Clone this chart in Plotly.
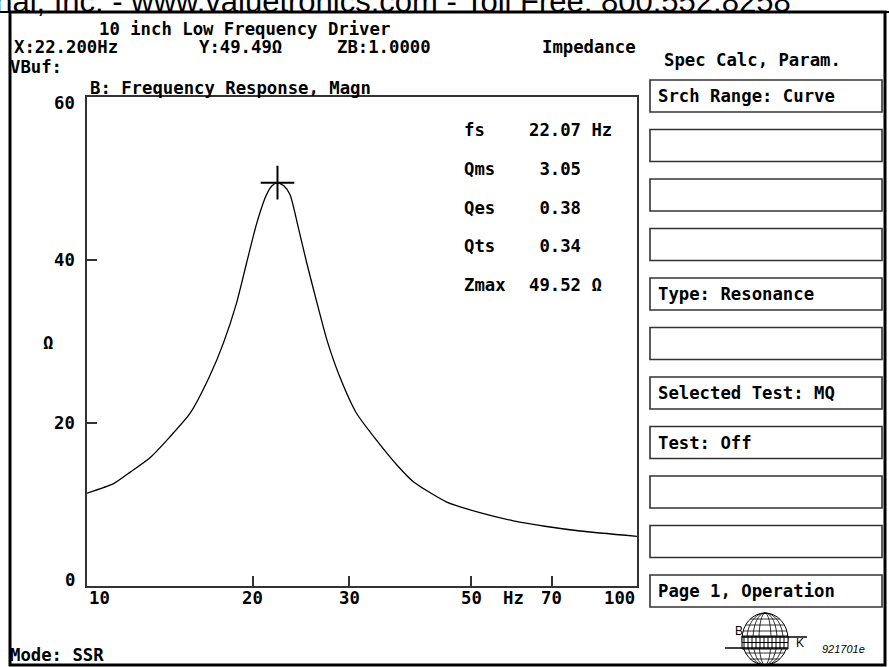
import plotly.graph_objects as go
import numpy as np

# ---------------- data ----------------
freq_hz = [10.0, 11.2, 12.0, 13.0, 14.15, 15.4, 16.7, 17.7, 18.7, 19.5, 20.35, 21.2, 21.7,
           22.2, 22.8, 23.4, 24.2, 25.1, 26.2, 27.3, 28.8, 30.9, 33.6, 36.6, 39.2,
           45.1, 51.8, 59.6, 68.5, 78.8, 100.0]
impedance_ohm = [11.4, 12.6, 14.0, 15.7, 18.3, 21.2, 25.7, 29.8, 34.7, 39.6, 44.5, 48.0, 49.1,
                 49.5, 49.1, 48.0, 44.1, 39.6, 34.7, 30.2, 25.7, 21.2, 17.9, 14.85, 12.8,
                 10.3, 9.0, 8.0, 7.3, 6.75, 6.1]
cursor_x = [22.2]
cursor_y = [49.49]

x_tick_vals = [20, 30, 50, 70]
x_tick_text = ["20", "30", "50", "70"]
y_tick_vals = [0, 20, 40, 60]
y_tick_text = ["0", "20", "40", "60"]

param_names = ["fs", "Qms", "Qes", "Qts", "Zmax"]
param_values = ["22.07 Hz", " 3.05", " 0.38", " 0.34", "49.52 Ω"]

panel_labels = ["Srch Range: Curve", "", "", "", "Type: Resonance", "",
                "Selected Test: MQ", "Test: Off", "", "", "Page 1, Operation"]

# ---------------- layout geometry ----------------
W, H = 889, 667
L, R, T, B = 87, 637, 97, 586
FONT = "DejaVu Sans Mono"
FS = 17.3
BLACK = "#000000"
GREY = "#333333"


def px(x):
    return (x - L) / (R - L)


def py(y):
    return (B - y) / (B - T)


fig = go.Figure()
fig.add_trace(go.Scatter(x=freq_hz, y=impedance_ohm, mode="lines",
                         line=dict(color=BLACK, width=1.3, shape="spline", smoothing=0.6),
                         hoverinfo="skip", showlegend=False))
fig.add_trace(go.Scatter(x=cursor_x, y=cursor_y, mode="markers",
                         marker=dict(symbol="cross-thin", size=24,
                                     line=dict(color=BLACK, width=2)),
                         hoverinfo="skip", showlegend=False))

ann = []


def text(x, y, s, anchor="left", size=FS, family=FONT, bold=True, italic=False, color=BLACK):
    t = f"<b>{s}</b>" if bold else s
    if italic:
        t = f"<i>{t}</i>"
    ann.append(dict(x=px(x), y=py(y), xref="paper", yref="paper", text=t,
                    showarrow=False, xanchor=anchor, yanchor="middle",
                    font=dict(family=family, size=size, color=color)))


# watermark on top (cut off by the page edge)
text(793, 1, "Valuetronics International, Inc. - www.valuetronics.com - Toll Free: 800.552.8258",
     anchor="right", size=31, family="Liberation Sans", bold=False)

# header texts
text(97, 29, "10 inch Low Frequency Driver")
text(12, 47, "X:22.200Hz")
text(197, 47, "Y:49.49Ω")
text(335, 47, "ZB:1.0000")
text(540, 47, "Impedance")
text(662, 60, "Spec Calc, Param.")
text(8, 67, "VBuf:")
text(88, 88, "B: Frequency Response, Magn")
text(8, 655, "Mode: SSR")
text(41, 343, "Ω")

# y tick labels
for v, s in zip(y_tick_vals, y_tick_text):
    yy = B - (v / 60.0) * (B - T)
    if v == 0:
        yy -= 6
    if v == 60:
        yy += 6
    text(77, yy, s, anchor="right")

# x tick labels (through the x axis)
for v, s in zip(x_tick_vals, x_tick_text):
    ann.append(dict(x=np.log10(v), y=py(598), xref="x", yref="paper", text=f"<b>{s}</b>",
                    showarrow=False, xanchor="center", yanchor="middle",
                    font=dict(family=FONT, size=FS, color=BLACK)))
ann.append(dict(x=1, y=py(598), xref="x", yref="paper", text="<b>10</b>",
                showarrow=False, xanchor="left", yanchor="middle",
                font=dict(family=FONT, size=FS, color=BLACK)))
ann.append(dict(x=2, y=py(598), xref="x", yref="paper", text="<b>100</b>",
                showarrow=False, xanchor="right", yanchor="middle",
                font=dict(family=FONT, size=FS, color=BLACK)))
text(513, 598, "Hz", anchor="center")

# parameter table
for i, (n, v) in enumerate(zip(param_names, param_values)):
    yy = 130 + i * 38.8
    text(462, yy, n)
    text(527, yy, v)

# right panel boxes
shapes = []
for i, lab in enumerate(panel_labels):
    top = 80 + i * 49.5
    shapes.append(dict(type="rect", xref="paper", yref="paper",
                       x0=px(650), x1=px(882), y0=py(top), y1=py(top + 32),
                       line=dict(color=GREY, width=1.6)))
    if lab:
        text(656, top + 16, lab)

# outer frame
shapes.append(dict(type="rect", xref="paper", yref="paper",
                   x0=px(10), x1=px(885), y0=py(12), y1=py(665),
                   line=dict(color=BLACK, width=3)))
shapes.append(dict(type="line", xref="paper", yref="paper",
                   x0=px(0), x1=px(889), y0=py(12), y1=py(12),
                   line=dict(color=BLACK, width=2)))

# BK logo
cx, cy, rx, ry = 765, 639, 23, 26
shapes.append(dict(type="circle", xref="paper", yref="paper",
                   x0=px(cx - rx), x1=px(cx + rx), y0=py(cy - ry), y1=py(cy + ry),
                   line=dict(color=BLACK, width=1)))
for k in [6, 12, 18]:
    shapes.append(dict(type="circle", xref="paper", yref="paper",
                       x0=px(cx - k), x1=px(cx + k), y0=py(cy - ry), y1=py(cy + ry),
                       line=dict(color=BLACK, width=0.8)))
for dy in [-20, -14, -8, 8, 14, 20]:
    half = rx * np.sqrt(max(1 - (dy / ry) ** 2, 0))
    shapes.append(dict(type="line", xref="paper", yref="paper",
                       x0=px(cx - half), x1=px(cx + half), y0=py(cy + dy), y1=py(cy + dy),
                       line=dict(color=BLACK, width=0.8)))
shapes.append(dict(type="rect", xref="paper", yref="paper",
                   x0=px(cx - 23), x1=px(cx + 23), y0=py(636), y1=py(649),
                   line=dict(color=BLACK, width=1), fillcolor="white"))
for xx in range(cx - 21, cx + 23, 4):
    shapes.append(dict(type="line", xref="paper", yref="paper",
                       x0=px(xx), x1=px(xx), y0=py(636), y1=py(649),
                       line=dict(color=BLACK, width=1)))
shapes.append(dict(type="line", xref="paper", yref="paper",
                   x0=px(cx - 23), x1=px(807), y0=py(637), y1=py(637),
                   line=dict(color=BLACK, width=1.5)))
shapes.append(dict(type="line", xref="paper", yref="paper",
                   x0=px(725), x1=px(cx + 23), y0=py(648), y1=py(648),
                   line=dict(color=BLACK, width=1.5)))
shapes.append(dict(type="line", xref="paper", yref="paper",
                   x0=px(cx - 23), x1=px(cx + 23), y0=py(642.5), y1=py(642.5),
                   line=dict(color=BLACK, width=1)))
text(733, 631, "B", size=12, family="Liberation Sans", bold=False)
text(794, 643, "K", size=12, family="Liberation Sans", bold=False)
text(820, 649, "921701e", size=11, family="Liberation Sans", bold=False, italic=True)

fig.update_layout(
    width=W, height=H, autosize=False,
    margin=dict(l=L, r=W - R, t=T, b=H - B, pad=0),
    paper_bgcolor="white", plot_bgcolor="white",
    annotations=ann, shapes=shapes, showlegend=False,
    xaxis=dict(type="log", range=[1, 2], showgrid=False, zeroline=False,
               showline=True, mirror=True, linecolor=GREY, linewidth=1.6,
               tickvals=x_tick_vals, showticklabels=False, ticks="inside",
               ticklen=10, tickwidth=1.5, tickcolor=GREY, fixedrange=True),
    yaxis=dict(range=[0, 60], showgrid=False, zeroline=False,
               showline=True, mirror=True, linecolor=GREY, linewidth=1.6,
               tickvals=[20, 40], showticklabels=False, ticks="inside",
               ticklen=10, tickwidth=1.5, tickcolor=GREY, fixedrange=True),
)

fig.write_html("out.html", config={"displayModeBar": False},
               post_script="document.body.style.margin='0px';document.body.style.overflow='hidden';")
